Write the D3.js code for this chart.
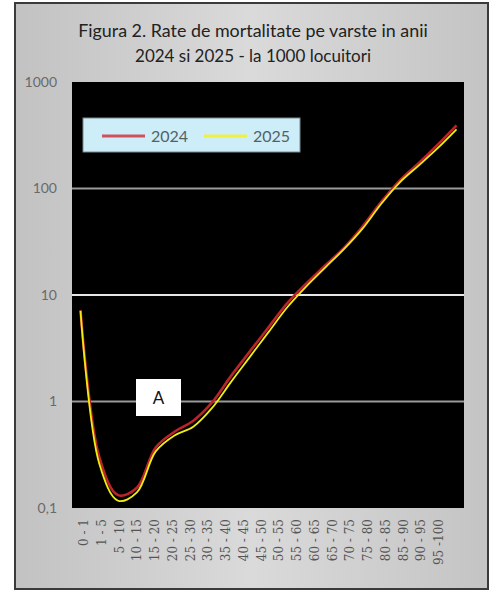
<!DOCTYPE html>
<html><head><meta charset="utf-8">
<script src="https://cdn.jsdelivr.net/npm/d3@7"></script>
<style>body{margin:0;background:#fff}</style>
</head><body><svg id="c" width="500" height="599"></svg>
<script>
const categories = ["0 - 1","1 - 5","5 - 10","10 - 15","15 - 20","20 - 25","25 - 30","30 - 35","35 - 40","40 - 45","45 - 50","50 - 55","55 - 60","60 - 65","65 - 70","70 - 75","75 - 80","80 - 85","85 - 90","90 - 95","95 -100"];
const rates2024 = [7.2, 0.30, 0.132, 0.155, 0.37, 0.52, 0.66, 0.98, 1.73, 2.94, 4.97, 8.4, 12.8, 18.8, 27.6, 44, 75, 120, 174, 258, 392];
const rates2025 = [7.1, 0.26, 0.117, 0.14, 0.34, 0.48, 0.58, 0.87, 1.52, 2.61, 4.48, 7.67, 12.0, 18.0, 26.8, 42, 72, 115, 165, 239, 359];
const yTicks = [0.1, 1, 10, 100, 1000];
const yTickLabels = ["0,1", "1", "10", "100", "1000"];
const seriesNames = ["2024", "2025"];
const titleLines = ["Figura 2. Rate de mortalitate pe varste in anii", "2024 si 2025 - la 1000 locuitori"];
const annotation = "A";

const svg = d3.select("#c");
const defs = svg.append("defs");
const g1 = defs.append("linearGradient").attr("id","bg").attr("x1","0").attr("x2","1").attr("y1","0").attr("y2","0");
g1.append("stop").attr("offset","0").attr("stop-color","#c2c2c2");
g1.append("stop").attr("offset","0.5").attr("stop-color","#dadada");
g1.append("stop").attr("offset","1").attr("stop-color","#c4c4c4");

// frame
svg.append("rect").attr("x",15).attr("y",3).attr("width",473).attr("height",586)
  .attr("fill","url(#bg)").attr("stroke","#3a3a3a").attr("stroke-width",2);

const plot = {l:72, t:82, r:464, b:508};
svg.append("rect").attr("x",plot.l).attr("y",plot.t).attr("width",plot.r-plot.l).attr("height",plot.b-plot.t).attr("fill","#000");

const x = d3.scalePoint().domain(categories).range([80.5, 456.5]);
const xl = d3.scalePoint().domain(categories).range([83.3, 438.3]);
const y = d3.scaleLog().domain([0.1, 1000]).range([plot.b, plot.t]);

// gridlines
const gridColor = {1:"#9a9a9a", 10:"#e6e6e6", 100:"#9a9a9a"};
svg.append("g").selectAll("line").data(yTicks.filter(v => v > 0.1 && v < 1000)).join("line")
  .attr("x1", plot.l).attr("x2", plot.r)
  .attr("y1", d => y(d)).attr("y2", d => y(d))
  .attr("stroke", d => gridColor[d]).attr("stroke-width", 2);

// y axis
const yAxis = d3.axisLeft(y).tickValues(yTicks).tickFormat((d,i) => yTickLabels[i]).tickSize(0).tickPadding(0);
const ya = svg.append("g").attr("transform", `translate(57,0)`).call(yAxis);
ya.select(".domain").remove();
ya.selectAll("text").attr("font-family","Lato, 'Open Sans', sans-serif").attr("font-size",14).attr("fill","#6a6a6a");

// x axis labels
const xAxis = d3.axisBottom(xl).tickSize(0).tickPadding(0);
const xa = svg.append("g").attr("transform", `translate(0,519)`).call(xAxis);
xa.select(".domain").remove();
xa.selectAll("text").attr("font-family","'DejaVu Serif', serif").attr("font-size",12).attr("fill","#555")
  .attr("transform","rotate(-90)").attr("text-anchor","end").attr("x",0).attr("y",0).attr("dy","0.35em");

// lines
const line = d3.line().x((d,i) => x(categories[i])).y(d => y(d)).curve(d3.curveCatmullRom.alpha(0.5));
svg.append("path").datum(rates2024).attr("d", line).attr("fill","none").attr("stroke","#b8242a").attr("stroke-width",2.6);
svg.append("path").datum(rates2025).attr("d", line).attr("fill","none").attr("stroke","#f0ee10").attr("stroke-width",1.8);

// legend
const lg = svg.append("g");
lg.append("rect").attr("x",83).attr("y",118).attr("width",217).attr("height",34).attr("fill","#cdeef8").attr("stroke","#7a8a90").attr("stroke-width",1);
const legColors = ["#d0505c", "#f0f040"];
seriesNames.forEach((n,i) => {
  const ox = 102 + i*102;
  lg.append("line").attr("x1",ox).attr("x2",ox+43).attr("y1",136).attr("y2",136).attr("stroke",legColors[i]).attr("stroke-width",3);
  lg.append("text").attr("x",ox+49).attr("y",142).text(n).attr("font-family","Lato, 'Open Sans', sans-serif").attr("font-size",16).attr("fill","#556066");
});

// annotation box
svg.append("rect").attr("x",136).attr("y",379).attr("width",45).attr("height",37).attr("fill","#fff");
svg.append("text").attr("x",158.5).attr("y",404).attr("text-anchor","middle").text(annotation)
  .attr("font-family","Lato, 'Open Sans', sans-serif").attr("font-size",17).attr("fill","#111");

// title
const tw = [350, 236];
titleLines.forEach((t,i) => {
  const tx = svg.append("text").attr("x",253).attr("y", i===0 ? 37 : 62).attr("text-anchor","middle")
    .attr("font-family","Lato, 'Open Sans', sans-serif").attr("font-size",16).attr("fill","#222").text(t);
  const w = tx.node().getComputedTextLength();
  tx.attr("font-size", 16 * tw[i] / w);
});
</script>
</body></html>
